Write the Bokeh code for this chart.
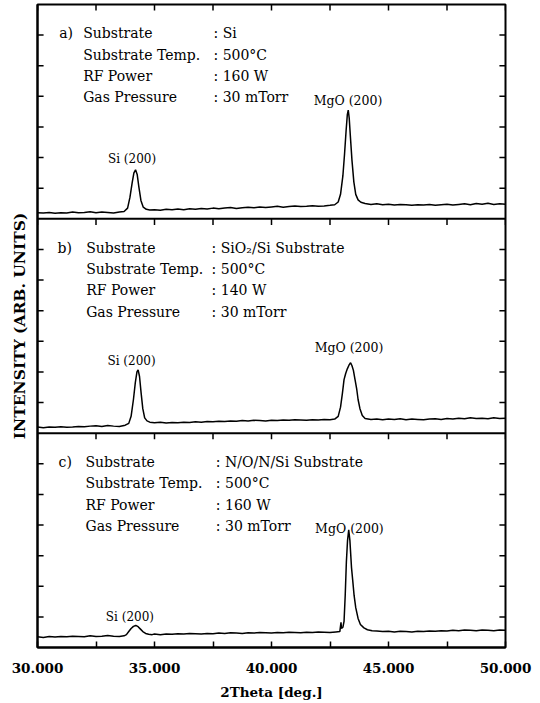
from bokeh.plotting import figure
from bokeh.models import FixedTicker, Span, Label, Range1d, NumeralTickFormatter
from bokeh.embed import file_html
from bokeh.resources import INLINE

# ---------------- data (intensity in arbitrary units, per panel 0..7) -------------
theta_a = [30.0, 30.25, 30.5, 30.75, 31.0, 31.25, 31.5, 31.75, 32.0, 32.25, 32.5, 32.75,
           33.0, 33.25, 33.5, 33.7, 33.85, 33.95, 34.05, 34.12, 34.19, 34.26, 34.33, 34.42,
           34.52, 34.65, 34.8, 35.0, 35.25, 35.5, 35.75, 36.0, 36.25, 36.5, 36.75, 37.0,
           37.25, 37.5, 37.75, 38.0, 38.25, 38.5, 38.75, 39.0, 39.25, 39.5, 39.75, 40.0,
           40.25, 40.5, 40.75, 41.0, 41.25, 41.5, 41.75, 42.0, 42.25, 42.5, 42.7, 42.85,
           42.95, 43.05, 43.12, 43.19, 43.24, 43.28, 43.32, 43.37, 43.44, 43.52, 43.6, 43.7,
           43.82, 44.0, 44.25, 44.5, 44.75, 45.0, 45.25, 45.5, 45.75, 46.0, 46.25, 46.5,
           46.75, 47.0, 47.25, 47.5, 47.75, 48.0, 48.25, 48.5, 48.75, 49.0, 49.25, 49.5,
           49.75, 50.0]
intensity_a = [0.20, 0.19, 0.21, 0.18, 0.20, 0.19, 0.22, 0.20, 0.21, 0.23, 0.20, 0.22,
               0.21, 0.19, 0.22, 0.24, 0.35, 0.70, 1.20, 1.50, 1.60, 1.45, 1.05, 0.60,
               0.38, 0.31, 0.29, 0.30, 0.28, 0.31, 0.30, 0.32, 0.30, 0.33, 0.31, 0.34,
               0.32, 0.35, 0.33, 0.35, 0.37, 0.34, 0.36, 0.38, 0.36, 0.39, 0.37, 0.39,
               0.41, 0.38, 0.40, 0.42, 0.40, 0.41, 0.43, 0.41, 0.42, 0.44, 0.46, 0.55,
               0.80, 1.40, 2.10, 2.90, 3.40, 3.55, 3.30, 2.70, 1.90, 1.20, 0.80, 0.62,
               0.54, 0.50, 0.47, 0.49, 0.46, 0.48, 0.45, 0.47, 0.46, 0.44, 0.46, 0.45,
               0.47, 0.44, 0.46, 0.48, 0.45, 0.47, 0.49, 0.46, 0.50, 0.48, 0.51, 0.47,
               0.49, 0.48]

theta_b = [30.0, 30.25, 30.5, 30.75, 31.0, 31.25, 31.5, 31.75, 32.0, 32.25, 32.5, 32.75,
           33.0, 33.25, 33.5, 33.75, 33.9, 34.0, 34.1, 34.18, 34.25, 34.3, 34.36, 34.43,
           34.5, 34.58, 34.68, 34.8, 35.0, 35.25, 35.5, 35.75, 36.0, 36.25, 36.5, 36.75,
           37.0, 37.25, 37.5, 37.75, 38.0, 38.25, 38.5, 38.75, 39.0, 39.25, 39.5, 39.75,
           40.0, 40.25, 40.5, 40.75, 41.0, 41.25, 41.5, 41.75, 42.0, 42.25, 42.5, 42.7,
           42.85, 42.95, 43.03, 43.1, 43.17, 43.24, 43.31, 43.38, 43.44, 43.5, 43.57, 43.64,
           43.7, 43.78, 43.88, 44.0, 44.25, 44.5, 44.75, 45.0, 45.25, 45.5, 45.75, 46.0,
           46.25, 46.5, 46.75, 47.0, 47.25, 47.5, 47.75, 48.0, 48.25, 48.5, 48.75, 49.0,
           49.25, 49.5, 49.75, 50.0]
intensity_b = [0.20, 0.18, 0.20, 0.19, 0.21, 0.19, 0.20, 0.22, 0.21, 0.23, 0.24, 0.22,
               0.25, 0.23, 0.22, 0.26, 0.32, 0.55, 1.10, 1.65, 2.00, 2.07, 1.85, 1.30,
               0.80, 0.50, 0.40, 0.36, 0.34, 0.36, 0.33, 0.35, 0.34, 0.36, 0.35, 0.37,
               0.36, 0.38, 0.37, 0.39, 0.38, 0.40, 0.39, 0.41, 0.40, 0.42, 0.41, 0.40,
               0.42, 0.41, 0.43, 0.42, 0.44, 0.43, 0.42, 0.44, 0.43, 0.45, 0.44, 0.46,
               0.55, 0.85, 1.30, 1.75, 1.95, 2.10, 2.22, 2.30, 2.20, 2.05, 1.75, 1.45,
               1.10, 0.80, 0.58, 0.48, 0.45, 0.46, 0.44, 0.46, 0.45, 0.47, 0.44, 0.46,
               0.45, 0.44, 0.46, 0.47, 0.45, 0.48, 0.46, 0.49, 0.47, 0.50, 0.48, 0.49,
               0.47, 0.50, 0.48, 0.49]

theta_c = [30.0, 30.25, 30.5, 30.75, 31.0, 31.25, 31.5, 31.75, 32.0, 32.25, 32.5, 32.75,
           33.0, 33.25, 33.5, 33.7, 33.8, 33.9, 34.0, 34.1, 34.2, 34.3, 34.4, 34.5,
           34.62, 34.75, 34.9, 35.0, 35.25, 35.5, 35.75, 36.0, 36.25, 36.5, 36.75, 37.0,
           37.25, 37.5, 37.75, 38.0, 38.25, 38.5, 38.75, 39.0, 39.25, 39.5, 39.75, 40.0,
           40.25, 40.5, 40.75, 41.0, 41.25, 41.5, 41.75, 42.0, 42.25, 42.5, 42.75, 42.92,
           42.97, 42.99, 43.05, 43.1, 43.15, 43.2, 43.25, 43.3, 43.35, 43.42, 43.47, 43.53,
           43.6, 43.7, 43.8, 43.95, 44.1, 44.3, 44.5, 44.75, 45.0, 45.25, 45.5, 45.75,
           46.0, 46.25, 46.5, 46.75, 47.0, 47.25, 47.5, 47.75, 48.0, 48.25, 48.5, 48.75,
           49.0, 49.25, 49.5, 49.75, 50.0]
intensity_c = [0.35, 0.33, 0.36, 0.34, 0.36, 0.35, 0.37, 0.36, 0.35, 0.38, 0.36, 0.37,
               0.39, 0.37, 0.36, 0.38, 0.42, 0.52, 0.62, 0.69, 0.72, 0.68, 0.60, 0.52,
               0.46, 0.43, 0.42, 0.44, 0.42, 0.44, 0.43, 0.45, 0.44, 0.46, 0.45, 0.44,
               0.46, 0.45, 0.47, 0.46, 0.48, 0.47, 0.46, 0.48, 0.47, 0.49, 0.48, 0.47,
               0.49, 0.48, 0.50, 0.49, 0.48, 0.50, 0.49, 0.51, 0.50, 0.49, 0.51, 0.52,
               0.82, 0.62, 0.66, 0.85, 1.70, 2.80, 3.50, 3.84, 3.50, 2.60, 2.20, 1.70,
               1.30, 0.95, 0.75, 0.64, 0.58, 0.55, 0.54, 0.52, 0.53, 0.51, 0.53, 0.52,
               0.51, 0.53, 0.52, 0.54, 0.53, 0.55, 0.54, 0.56, 0.55, 0.57, 0.56, 0.55,
               0.57, 0.56, 0.55, 0.57, 0.56]

panel_tags = ["a)", "b)", "c)"]
param_names = ["Substrate", "Substrate  Temp.", "RF Power", "Gas  Pressure"]
values_a = [": Si", ": 500\u00b0C", ": 160 W", ": 30 mTorr"]
values_b = [": SiO\u2082/Si Substrate", ": 500\u00b0C", ": 140 W", ": 30 mTorr"]
values_c = [": N/O/N/Si Substrate", ": 500\u00b0C", ": 160 W", ": 30 mTorr"]
peak_names = ["Si (200)", "MgO (200)"]

x_major_ticks = [30, 35, 40, 45, 50]
x_minor_ticks = [32.5, 37.5, 42.5, 47.5]
panel_y_ticks = [1, 2, 3, 4, 5, 6]

for t, v in [(theta_a, intensity_a), (theta_b, intensity_b), (theta_c, intensity_c)]:
    assert len(t) == len(v)

# ---------------- layout ----------------
PANEL_H = 7
offsets = [2 * PANEL_H, PANEL_H, 0]   # a on top, c at bottom
X0, X1 = 30, 50
SERIF = "DejaVu Serif"

p = figure(frame_width=468, frame_height=643,
           x_range=Range1d(X0, X1), y_range=Range1d(0, 3 * PANEL_H),
           output_backend="svg", toolbar_location=None,
           min_border_left=37, min_border_right=30, min_border_top=4,
           min_border_bottom=50)
p.grid.visible = False
p.background_fill_color = "white"
p.border_fill_color = "white"
p.outline_line_color = "black"
p.outline_line_width = 2

# bottom axis
xa = p.xaxis[0]
xa.ticker = FixedTicker(ticks=x_major_ticks, minor_ticks=x_minor_ticks)
xa.formatter = NumeralTickFormatter(format="0.000")
xa.major_tick_in = 6
xa.major_tick_out = 0
xa.minor_tick_in = 6
xa.minor_tick_out = 0
xa.axis_line_width = 2
xa.major_tick_line_width = 1.5
xa.minor_tick_line_width = 1.5
xa.major_label_text_font = SERIF
xa.major_label_text_font_style = "bold"
xa.major_label_text_font_size = "13.5px"
xa.major_label_text_color = "black"
xa.major_label_standoff = 15
xa.axis_label = "2Theta [deg.]"
xa.axis_label_text_font = SERIF
xa.axis_label_text_font_style = "bold"
xa.axis_label_text_font_size = "13.5px"
xa.axis_label_text_color = "black"
xa.axis_label_standoff = 8

# left axis: only the title (ticks drawn as segments below)
ya = p.yaxis[0]
ya.ticker = FixedTicker(ticks=[])
ya.major_tick_in = 0
ya.major_tick_out = 0
ya.minor_tick_in = 0
ya.minor_tick_out = 0
ya.axis_line_width = 2
ya.major_label_standoff = 0
ya.axis_label = "INTENSITY (ARB. UNITS)"
ya.axis_label_text_font = SERIF
ya.axis_label_text_font_style = "bold"
ya.axis_label_text_font_size = "15.5px"
ya.axis_label_text_color = "black"
ya.axis_label_standoff = 9

# y ticks (inward, both sides) for every panel
all_y_ticks = [t + o for o in offsets for t in panel_y_ticks]
TICK_X = 0.26   # ~6 px in x units
TICK_Y = 0.2    # ~6 px in y units
n = len(all_y_ticks)
p.segment(x0=[X0] * n, y0=all_y_ticks, x1=[X0 + TICK_X] * n, y1=all_y_ticks,
          line_color="black", line_width=1.5)
p.segment(x0=[X1] * n, y0=all_y_ticks, x1=[X1 - TICK_X] * n, y1=all_y_ticks,
          line_color="black", line_width=1.5)

# panel separators and the inward ticks at the top of each panel
for o in offsets[1:]:
    p.add_layout(Span(location=o + PANEL_H, dimension="width",
                      line_color="black", line_width=2))
all_x_ticks = sorted(x_major_ticks + x_minor_ticks)
for o in offsets:
    top = o + PANEL_H
    p.segment(x0=all_x_ticks, y0=[top] * len(all_x_ticks),
              x1=all_x_ticks, y1=[top - TICK_Y] * len(all_x_ticks),
              line_color="black", line_width=1.5)

# curves
for (t, v), o in zip([(theta_a, intensity_a), (theta_b, intensity_b),
                      (theta_c, intensity_c)], offsets):
    p.line(t, [y + o for y in v], line_color="black", line_width=1.5)

# annotation text
row_y = [6.06, 5.36, 4.66, 3.97]
tag_x = [30.93, 30.86, 30.90]
name_x = [31.95, 32.08, 32.05]
colon_x = [37.52, 37.44, 37.62]
si_lab = [(34.04, 1.96), (34.02, 2.36), (33.95, 1.0)]
mgo_lab = [(43.27, 3.88), (43.31, 2.8), (43.33, 3.9)]

for i, (o, vals) in enumerate(zip(offsets, [values_a, values_b, values_c])):
    p.add_layout(Label(x=tag_x[i], y=row_y[0] + o, text=panel_tags[i],
                       text_font=SERIF, text_font_size="14px", text_baseline="middle",
                       text_color="black"))
    for r in range(4):
        p.add_layout(Label(x=name_x[i], y=row_y[r] + o, text=param_names[r],
                           text_font=SERIF, text_font_size="14px",
                           text_baseline="middle", text_color="black"))
        p.add_layout(Label(x=colon_x[i], y=row_y[r] + o, text=vals[r],
                           text_font=SERIF, text_font_size="14px",
                           text_baseline="middle", text_color="black"))
    p.add_layout(Label(x=si_lab[i][0], y=si_lab[i][1] + o, text=peak_names[0],
                       text_font=SERIF, text_font_size="12px", text_align="center",
                       text_baseline="middle", text_color="black"))
    p.add_layout(Label(x=mgo_lab[i][0], y=mgo_lab[i][1] + o, text=peak_names[1],
                       text_font=SERIF, text_font_size="12.5px", text_align="center",
                       text_baseline="middle", text_color="black"))

open("out.html", "w").write(file_html(p, INLINE))
